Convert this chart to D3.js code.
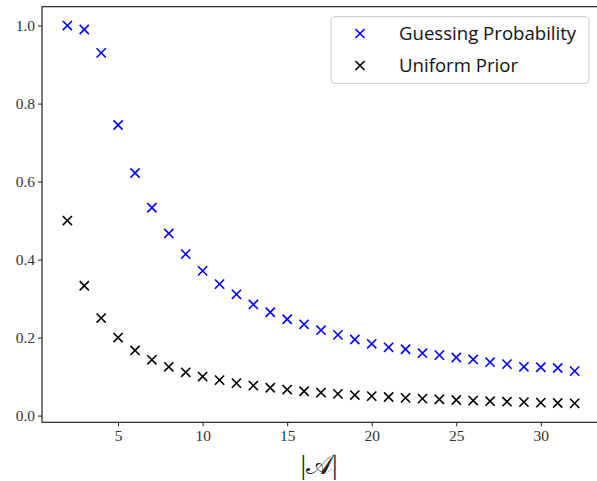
<!DOCTYPE html>
<html><head><meta charset="utf-8">
<script src="https://cdn.jsdelivr.net/npm/d3@7"></script>
<style>body{margin:0;background:#fff}svg{display:block}</style>
</head><body>
<svg id="chart" width="597" height="481"></svg>
<script>
const sizes = [2,3,4,5,6,7,8,9,10,11,12,13,14,15,16,17,18,19,20,21,22,23,24,25,26,27,28,29,30,31,32];
const guessingProbability = [1.0,0.990,0.930,0.745,0.622,0.533,0.467,0.414,0.371,0.337,0.311,0.285,0.265,0.247,0.234,0.219,0.207,0.195,0.184,0.175,0.170,0.160,0.155,0.149,0.144,0.137,0.132,0.125,0.124,0.122,0.114];
const uniformPrior = [0.5,0.333,0.25,0.2,0.167,0.143,0.125,0.111,0.1,0.0909,0.0833,0.0769,0.0714,0.0667,0.0625,0.0588,0.0556,0.0526,0.05,0.0476,0.0455,0.0435,0.0417,0.04,0.0385,0.037,0.0357,0.0345,0.0333,0.0323,0.03125];
const xTicks = [5,10,15,20,25,30];
const yTicks = [0.0,0.2,0.4,0.6,0.8,1.0];
const seriesNames = ["Guessing Probability","Uniform Prior"];
const seriesColors = ["#0000ff","#000000"];

const svg = d3.select("#chart");
const L = 42, R = 600, T = 6.7, B = 422.3;
const x = d3.scaleLinear().domain([0.5, 33.5]).range([L, R]);
const y = d3.scaleLinear().domain([-0.0172, 1.0484]).range([B, T]);
const tickFont = "'Liberation Serif','DejaVu Serif',serif";

const xAxis = svg.append("g").attr("transform",`translate(0,${B})`)
  .call(d3.axisBottom(x).tickValues(xTicks).tickSize(4).tickPadding(4).tickFormat(d3.format("d")));
const yAxis = svg.append("g").attr("transform",`translate(${L},0)`)
  .call(d3.axisLeft(y).tickValues(yTicks).tickSize(4).tickPadding(3).tickFormat(d3.format(".1f")));
[xAxis,yAxis].forEach(a=>{
  a.select(".domain").remove();
  a.selectAll("line").attr("stroke","#222").attr("stroke-width",1);
  a.selectAll("text").attr("font-family",tickFont).attr("font-size",15.5).attr("fill","#333");
});
// frame
svg.append("rect").attr("x",L).attr("y",T).attr("width",R-L).attr("height",B-T)
  .attr("fill","none").attr("stroke","#222").attr("stroke-width",1.2);

function cross(g, cx, cy, color, s=4.6){
  g.append("path").attr("d",`M${cx-s},${cy-s}L${cx+s},${cy+s}M${cx-s},${cy+s}L${cx+s},${cy-s}`)
   .attr("stroke",color).attr("stroke-width",1.6).attr("fill","none");
}
const pts = svg.append("g");
[guessingProbability, uniformPrior].forEach((vals,i)=>{
  vals.forEach((v,j)=>cross(pts, x(sizes[j]), y(v), seriesColors[i]));
});

// x label
svg.append("text").attr("x",(L+R)/2 - 2).attr("y",474).attr("text-anchor","middle")
  .attr("font-family",tickFont).attr("font-size",28).attr("fill","#222")
  .text("|\u{1D49C}|");

// legend
const lg = svg.append("g");
lg.append("rect").attr("x",331).attr("y",16.5).attr("width",258).attr("height",67).attr("rx",4)
  .attr("fill","#fff").attr("stroke","#ccc").attr("stroke-width",1);
seriesNames.forEach((n,i)=>{
  const cy = 33.5 + i*32;
  cross(lg, 360, cy, seriesColors[i], 4.5);
  lg.append("text").attr("x",399).attr("y",cy).attr("dy","0.35em")
    .attr("font-family","'Open Sans','DejaVu Sans',sans-serif").attr("font-size",18.6).attr("fill","#111")
    .text(n);
});
</script>
</body></html>
